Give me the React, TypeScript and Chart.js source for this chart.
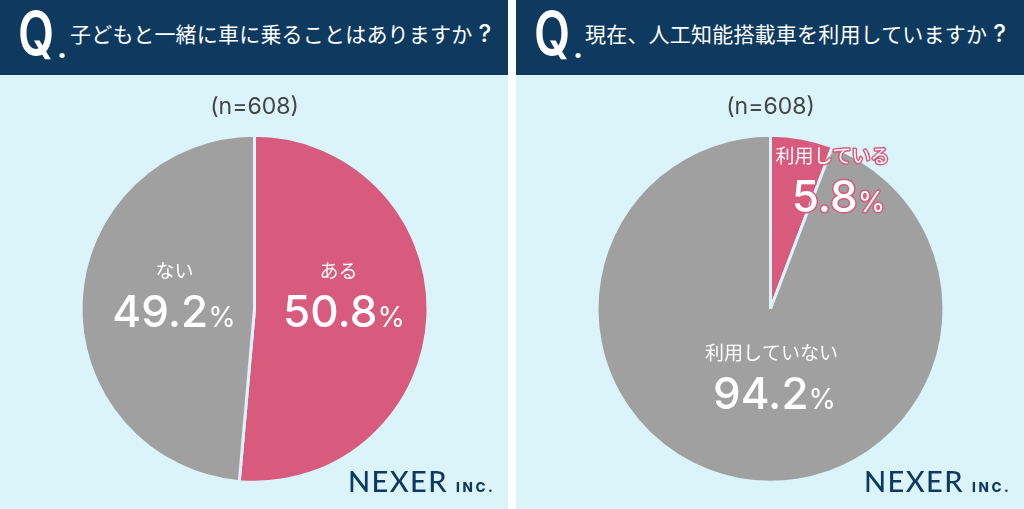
import { useEffect, useRef } from 'react';
import Chart from 'chart.js/auto';

const sampleLabel = '(n=608)';

const kidsQuestion = '子どもと一緒に車に乗ることはありますか';
const kidsCategories = ['ある', 'ない'];
const kidsValues = [50.8, 49.2];
// the reference draws this split at about 185deg, wider than its printed 50.8%
const kidsSlices = [51.4, 48.6];

const aiQuestion = '現在、人工知能搭載車を利用していますか';
const aiCategories = ['利用している', '利用していない'];
const aiValues = [5.8, 94.2];

const pink = '#D85A7C';
const grey = '#A0A0A0';
const navy = '#0F3A5F';
const pale = '#DAF4FA';
const jpFont = '"Noto Sans CJK JP", sans-serif';
const numFont = 'Inter, sans-serif';

// slice label anchors, relative to the pie centre (y is the number's baseline)
const kidsSpots = [{ x: 89.5, nameX: 84, y: 18 }, { x: -80.5, nameX: -80, y: 18 }];
const aiSpots = [{ x: 68, nameX: 62, y: -97 }, { x: 4, nameX: 1, y: 100 }];

const sliceLabels = {
  id: 'sliceLabels',
  afterDatasetsDraw(chart, _args, opts) {
    const { ctx } = chart;
    const arc = chart.getDatasetMeta(0).data[0];
    chart.data.labels.forEach((name, i) => {
      const spot = opts.spots[i];
      const base = arc.y + spot.y;
      const cx = arc.x + spot.x;
      const outlined = opts.printed[i] < 10;
      const num = opts.printed[i].toFixed(1);
      const numCss = `500 44px ${numFont}`;
      const pctCss = `400 28px ${numFont}`;
      ctx.save();
      ctx.textBaseline = 'alphabetic';
      ctx.lineJoin = 'round';
      ctx.lineWidth = 3;
      ctx.strokeStyle = pink;
      ctx.fillStyle = '#fff';

      ctx.font = `400 19px ${jpFont}`;
      ctx.textAlign = 'center';
      if (outlined) ctx.strokeText(name, arc.x + spot.nameX, base - 49);
      ctx.fillText(name, arc.x + spot.nameX, base - 49);

      ctx.textAlign = 'left';
      ctx.font = numCss;
      const numW = ctx.measureText(num).width;
      ctx.font = pctCss;
      const pctW = ctx.measureText('%').width;
      const left = cx - (numW + pctW) / 2;
      ctx.font = numCss;
      if (outlined) ctx.strokeText(num, left, base);
      ctx.fillText(num, left, base);
      ctx.font = pctCss;
      if (outlined) ctx.strokeText('%', left + numW, base);
      ctx.fillText('%', left + numW, base);
      ctx.restore();
    });
  },
};

function PiePanel({ question, categories, slices, printed, spots, left, textLeft }) {
  const canvasRef = useRef<HTMLCanvasElement | null>(null);

  useEffect(() => {
    const chart = new Chart(canvasRef.current, {
      type: 'pie',
      data: {
        labels: categories,
        datasets: [{
          data: slices,
          backgroundColor: [pink, grey],
          borderColor: pale,
          borderWidth: 3,
        }],
      },
      options: {
        animation: false,
        responsive: false,
        devicePixelRatio: 1,
        radius: 173.5,
        layout: { padding: { left: 1, bottom: 25 } },
        plugins: {
          legend: { display: false },
          tooltip: { enabled: false },
          title: {
            display: true,
            text: sampleLabel,
            color: '#444',
            font: { family: numFont, size: 23, weight: '400' },
            padding: { top: 18, bottom: 13 },
          },
          sliceLabels: { spots, printed },
        },
      },
      plugins: [sliceLabels],
    });
    return () => chart.destroy();
  }, []);

  return (
    <div style={{ position: 'absolute', left, top: 0, width: 508, height: 509, background: pale, overflow: 'hidden' }}>
      <div style={{ position: 'absolute', left: 0, top: 0, width: 508, height: 75, background: navy, color: '#fff' }}>
        <span style={{ position: 'absolute', left: 18, top: 0, transform: 'scaleX(0.78)', transformOrigin: 'left top', font: `600 60px/66px ${numFont}` }}>Q</span>
        <span style={{ position: 'absolute', left: 57, top: 27, font: `700 30px/40px ${numFont}` }}>.</span>
        <span style={{ position: 'absolute', left: textLeft, top: 18, whiteSpace: 'nowrap', letterSpacing: 0.2, font: `400 21px/30px ${jpFont}` }}>
          {question}
          <span style={{ marginLeft: 6, font: `500 24px/30px ${numFont}` }}>?</span>
        </span>
      </div>
      <canvas ref={canvasRef} width={508} height={434} style={{ position: 'absolute', left: 0, top: 75 }} />
      <span style={{ position: 'absolute', left: 348, top: 463, color: navy, letterSpacing: 1.4, font: `500 29px/35px Lato, sans-serif` }}>NEXER</span>
      <span style={{ position: 'absolute', left: 456, top: 479, color: navy, letterSpacing: 2.6, font: `800 13.5px/16px ${numFont}` }}>INC.</span>
    </div>
  );
}

export default function App() {
  return (
    <div style={{ position: 'fixed', left: 0, top: 0, width: 1024, height: 509, background: '#fff', overflow: 'hidden' }}>
      <PiePanel question={kidsQuestion} categories={kidsCategories} slices={kidsSlices} printed={kidsValues} spots={kidsSpots} left={0} textLeft={70} />
      <PiePanel question={aiQuestion} categories={aiCategories} slices={aiValues} printed={aiValues} spots={aiSpots} left={516} textLeft={69} />
    </div>
  );
}
